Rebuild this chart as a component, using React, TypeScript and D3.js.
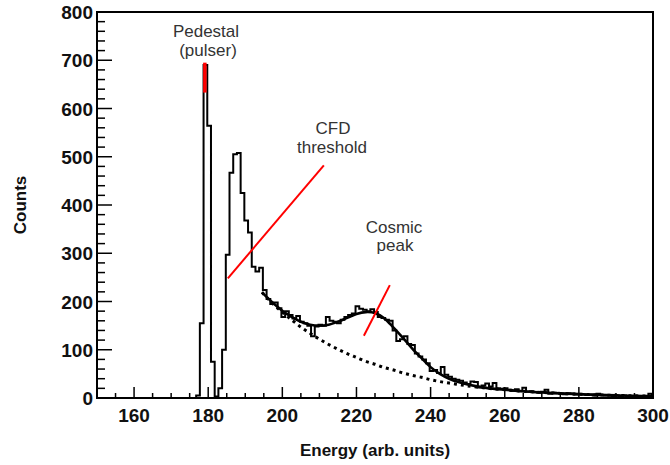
import React from "react";
import * as d3 from "d3";

// Histogram: bins of width 1 starting at binStart
const binStart = 175.75;
const binWidth = 1;
const counts = [
  0, 5, 155, 690, 564, 75, 3, 20, 100, 297,
  467, 505, 508, 425, 368, 343, 272, 262, 270, 224,
  205, 195, 198, 186, 168, 180, 172, 165, 170, 158,
  155, 150, 128, 148, 152, 150, 168, 160, 158, 155,
  162, 168, 172, 175, 190, 185, 183, 180, 184, 178,
  168, 166, 162, 160, 140, 118, 122, 128, 112, 110,
  92, 86, 80, 72, 56, 58, 52, 64, 48, 44,
  40, 38, 36, 32, 29, 34, 33, 22, 26, 30,
  24, 31, 20, 19, 20, 17, 15, 18, 14, 21,
  13, 14, 12, 11, 13, 17, 9, 11, 10, 9,
  8, 10, 9, 7, 8, 7, 6, 7, 5, 9,
  6, 5, 6, 4, 5, 3, 5, 4, 3, 4,
  2, 4, 3, 9, 3,
];

// Fit curves
const fitE = [194.5, 197.5, 200, 202.5, 205, 207.5, 210, 212.5, 215, 217.5, 220, 222.5, 225, 227.5, 230, 232.5, 235, 237.5, 240, 242.5, 245, 247.5, 250, 255, 260, 265, 270, 275, 280, 285, 290, 295, 300];
const fitTotal = [219, 197, 181, 168, 158, 152, 150, 152, 158, 166, 174, 178, 176, 165, 146, 125, 103, 83, 64, 50, 40, 33, 28, 21, 17, 14, 11.5, 9.5, 8, 6.5, 5.5, 4.5, 4];
const fitBackground = [219, 195, 178, 162, 147, 134, 122, 111, 101, 92, 84, 76, 70, 63, 58, 52, 47, 43, 38, 34, 31, 28, 25, 20.5, 17, 14, 11.5, 9.5, 8, 6.5, 5.5, 4.5, 3.5];

const xTicks = [160, 180, 200, 220, 240, 260, 280, 300];
const yTicks = [0, 100, 200, 300, 400, 500, 600, 700, 800];

// Annotations: red markers [E1, c1, E2, c2]
const pedestalMark = [179.1, 633, 179.1, 695];
const cfdLine = [185.3, 248, 211.2, 482];
const cosmicLine = [222.0, 129, 229.0, 234];

const W = 670, H = 465;
const L = 97, R = 653, T = 12, B = 398;

export default function App() {
  const x = d3.scaleLinear().domain([150, 300]).range([L, R]);
  const y = d3.scaleLinear().domain([0, 800]).range([B, T]);

  let hp = `M${x(binStart)},${y(0)}`;
  counts.forEach((c, i) => {
    const lo = binStart + i * binWidth;
    hp += `V${y(c)}H${x(lo + binWidth)}`;
  });
  hp += `V${y(0)}`;

  const line = d3
    .line<number>()
    .x((_, i) => x(fitE[i]))
    .y((d) => y(d))
    .curve(d3.curveCatmullRom);

  const minorX = d3.range(150, 301, 5);
  const minorY = d3.range(0, 801, 20);

  const font = "'Liberation Sans', Arial, Helvetica, sans-serif";

  return (
    <svg width={W} height={H} style={{ position: "absolute", left: 0, top: 0, background: "#fff" }} fontFamily={font}>
      <defs>
        <clipPath id="plot">
          <rect x={L} y={T} width={R - L} height={B - T} />
        </clipPath>
      </defs>
      <rect x={0} y={0} width={W} height={H} fill="#fff" />
      <g clipPath="url(#plot)">
        <path d={hp} fill="none" stroke="#000" strokeWidth={2} />
        <path d={line(fitBackground) || ""} fill="none" stroke="#000" strokeWidth={3} strokeDasharray="3,4" />
        <path d={line(fitTotal) || ""} fill="none" stroke="#000" strokeWidth={2.6} />
        <line x1={x(pedestalMark[0])} y1={y(pedestalMark[1])} x2={x(pedestalMark[2])} y2={y(pedestalMark[3])} stroke="#ff0000" strokeWidth={3.5} />
        <line x1={x(cfdLine[0])} y1={y(cfdLine[1])} x2={x(cfdLine[2])} y2={y(cfdLine[3])} stroke="#ff0000" strokeWidth={2} />
        <line x1={x(cosmicLine[0])} y1={y(cosmicLine[1])} x2={x(cosmicLine[2])} y2={y(cosmicLine[3])} stroke="#ff0000" strokeWidth={2} />
      </g>
      {/* ticks */}
      {minorX.map((v) => (
        <line key={"mx" + v} x1={x(v)} x2={x(v)} y1={B} y2={B - (v % 20 === 0 ? 11 : 5)} stroke="#000" strokeWidth={1.5} />
      ))}
      {minorY.map((v) => (
        <line key={"my" + v} x1={L} x2={L + (v % 100 === 0 ? 15 : 8)} y1={y(v)} y2={y(v)} stroke="#000" strokeWidth={1.5} />
      ))}
      <rect x={L} y={T} width={R - L} height={B - T} fill="none" stroke="#000" strokeWidth={2} />
      {xTicks.map((v) => (
        <text key={"xt" + v} x={x(v)} y={422} textAnchor="middle" fontSize={19} fontWeight="bold" fill="#111">
          {v}
        </text>
      ))}
      {yTicks.map((v) => (
        <text key={"yt" + v} x={93} y={y(v) + 7} textAnchor="end" fontSize={19} fontWeight="bold" fill="#111">
          {v}
        </text>
      ))}
      <text x={375} y={456} textAnchor="middle" fontSize={17} fontWeight="bold" fill="#111">
        Energy (arb. units)
      </text>
      <text transform="translate(26,205) rotate(-90)" textAnchor="middle" fontSize={17} fontWeight="bold" fill="#111">
        Counts
      </text>
      <g fontSize={17} fill="#333" textAnchor="middle">
        <text x={206} y={37}>Pedestal</text>
        <text x={208} y={56}>(pulser)</text>
        <text x={333} y={134}>CFD</text>
        <text x={332} y={153}>threshold</text>
        <text x={394} y={233}>Cosmic</text>
        <text x={395} y={251}>peak</text>
      </g>
    </svg>
  );
}
